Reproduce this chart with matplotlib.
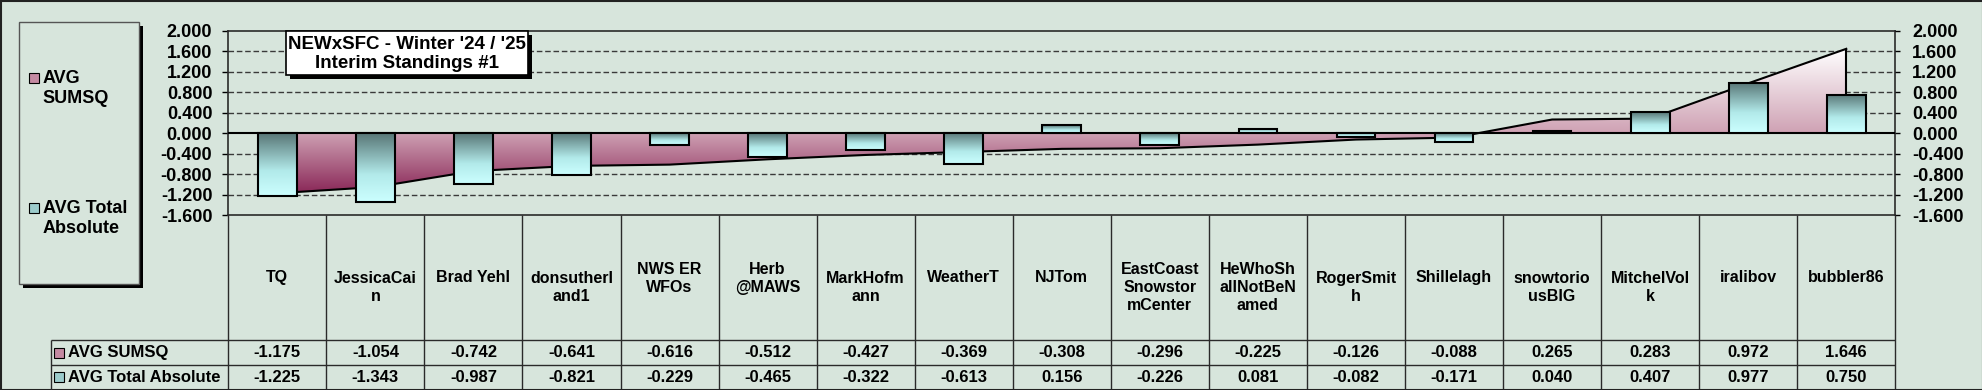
import numpy as np
import matplotlib
matplotlib.use("Agg")
import matplotlib.pyplot as plt
from matplotlib.colors import LinearSegmentedColormap
from matplotlib.patches import Rectangle, Polygon

plt.rcParams['font.family'] = ['Liberation Sans', 'DejaVu Sans']
plt.rcParams['font.weight'] = 'bold'
plt.rcParams['axes.unicode_minus'] = False

# data (as shown in the chart's data table)
names = ["TQ", "JessicaCai\nn", "Brad Yehl", "donsutherl\nand1", "NWS ER\nWFOs",
         "Herb\n@MAWS", "MarkHofm\nann", "WeatherT", "NJTom",
         "EastCoast\nSnowstor\nmCenter", "HeWhoSh\nallNotBeN\named", "RogerSmit\nh",
         "Shillelagh", "snowtorio\nusBIG", "MitchelVol\nk", "iralibov", "bubbler86"]
sumsq = [-1.175, -1.054, -0.742, -0.641, -0.616, -0.512, -0.427, -0.369, -0.308,
         -0.296, -0.225, -0.126, -0.088, 0.265, 0.283, 0.972, 1.646]
total_abs = [-1.225, -1.343, -0.987, -0.821, -0.229, -0.465, -0.322, -0.613, 0.156,
             -0.226, 0.081, -0.082, -0.171, 0.040, 0.407, 0.977, 0.750]
series = ["AVG SUMSQ", "AVG Total Absolute"]
legend_labels = ["AVG\nSUMSQ", "AVG Total\nAbsolute"]
yticks = [-1.6, -1.2, -0.8, -0.4, 0.0, 0.4, 0.8, 1.2, 1.6, 2.0]
title = "NEWxSFC - Winter '24 / '25\nInterim Standings #1"
# names that Excel broke at a space (centred vertically)
space_wrapped = {"NWS ER\nWFOs", "Herb\n@MAWS"}

W, H = 1983, 390
BG = '#d7e5dc'


def box(l, t, r, b):
    return [l / W, 1 - b / H, (r - l) / W, (b - t) / H]


fig = plt.figure(figsize=(W / 100, H / 100), dpi=100, facecolor=BG)

L, T, R, B = 228.3, 30.7, 1895.3, 215
ax = fig.add_axes(box(L, T, R, B))
ax.set_facecolor('none')
n = len(names)
x = np.arange(n)

# grid lines
for t in yticks[1:-1]:
    if t == 0:
        continue
    ax.axhline(t, color='#3a3a3a', lw=1, ls=(0, (4, 2)), zorder=1)

# area series with vertical gradient
lo, hi = min(sumsq), max(sumsq)
z = (0 - lo) / (hi - lo)
area_cmap = LinearSegmentedColormap.from_list(
    'area', [(0, '#8a2858'), (z, '#cfa2b4'), (1, '#ffffff')])
grad = np.linspace(0, 1, 256).reshape(-1, 1)
im = ax.imshow(grad, cmap=area_cmap, origin='lower', extent=(0, n - 1, lo, hi),
               aspect='auto', zorder=2)
poly = Polygon([(0, 0)] + list(zip(x, sumsq)) + [(n - 1, 0)], closed=True,
               fc='none', ec='none')
ax.add_patch(poly)
im.set_clip_path(poly)
ax.plot(x, sumsq, color='black', lw=1.5, zorder=3)
ax.vlines([0, n - 1], 0, [sumsq[0], sumsq[-1]], color='black', lw=1.5, zorder=3)
ax.axhline(0, color='black', lw=1.5, zorder=3.5)

# bar series with gradient
bar_cmap = LinearSegmentedColormap.from_list(
    'bar', [(0, '#587676'), (0.6, '#b2eaea'), (1, '#ccffff')])
bars = ax.bar(x, total_abs, width=0.395, fc='none', ec='black', lw=1.5, zorder=5)
for b in bars:
    x0, y0, w, h = b.get_x(), b.get_y(), b.get_width(), b.get_height()
    ax.imshow(grad, cmap=bar_cmap, origin='upper',
              extent=(x0, x0 + w, min(y0, y0 + h), max(y0, y0 + h)),
              aspect='auto', zorder=4.5)

ax.set_xlim(-0.5, n - 0.5)
ax.set_ylim(-1.6, 2.0)
ax.set_xticks([])
ax.set_yticks(yticks)
ax.set_yticklabels(["%.3f" % v for v in yticks])
ax.tick_params(axis='y', length=4, width=1, pad=7.5, labelsize=13, colors='black')
for s in ax.spines.values():
    s.set_color('#2a2a2a')
    s.set_linewidth(1.2)

ax2 = ax.twinx()
ax2.set_ylim(-1.6, 2.0)
ax2.set_yticks(yticks)
ax2.set_yticklabels(["%.3f" % v for v in yticks])
ax2.tick_params(axis='y', length=3.6, width=1, pad=8.5, labelsize=13, colors='black')
for s in ax2.spines.values():
    s.set_visible(False)

# data table
tab = fig.add_axes(box(L, B, R, H))
tab.set_xlim(-0.5, n - 0.5)
tab.set_ylim(H, B)
tab.axis('off')
tab.vlines(np.arange(n + 1) - 0.5, B, H, color='#2a2a2a', lw=1, clip_on=False)
for i, name in enumerate(names):
    k = name.count('\n') + 1
    if k == 1:
        yc = 277.7
    elif k == 3 or name in space_wrapped:
        yc = 268.7 + 9.6 * (k - 1)
    else:
        yc = 277.7 + 9.6 * (k - 1)
    tab.text(i, yc, name, ha='center', va='center', fontsize=11.5, linespacing=1.25)
    tab.text(i, 352.5, "%.3f" % sumsq[i], ha='center', va='center', fontsize=12)
    tab.text(i, 377, "%.3f" % total_abs[i], ha='center', va='center', fontsize=12)

# overlay for legend, title, table row headers
ov = fig.add_axes([0, 0, 1, 1])
ov.set_xlim(0, W)
ov.set_ylim(H, 0)
ov.axis('off')

mk_colors = ['#c48aa2', '#9ccccc']

ov.hlines([340, 365], 50.7, R, color='#2a2a2a', lw=1)
ov.vlines(50.7, 340, H, color='#2a2a2a', lw=1)
for j, (lab, yc) in enumerate(zip(series, [352.5, 377])):
    ov.add_patch(Rectangle((54, yc - 5), 10, 10, fc=mk_colors[j], ec='black', lw=0.8))
    ov.text(68.3, yc, lab, ha='left', va='center', fontsize=12)

# legend
ov.add_patch(Rectangle((23.3, 25.7), 120, 262.6, fc='black'))
ov.add_patch(Rectangle((19.3, 21.7), 120, 262.6, fc=BG, ec='#555555', lw=1))
for j, (lab, yc) in enumerate(zip(legend_labels, [78, 208])):
    ov.add_patch(Rectangle((29, yc - 5), 10, 10, fc=mk_colors[j], ec='black', lw=0.8))
    ov.text(42.7, yc + 10.3, lab, ha='left', va='center', fontsize=13)

# title box
ov.add_patch(Rectangle((289.5, 34.5), 242, 44, fc='black'))
ov.add_patch(Rectangle((286, 31), 242, 44, fc='white', ec='black', lw=1.2))
ov.text(407, 54, title, ha='center', va='center', fontsize=13.5, linespacing=1.13)

# outer frame
ov.add_patch(Rectangle((0.5, 0.5), W - 1, H - 1, fc='none', ec='#222222', lw=1.5))

fig.savefig('out.png', dpi=100, facecolor=BG)
